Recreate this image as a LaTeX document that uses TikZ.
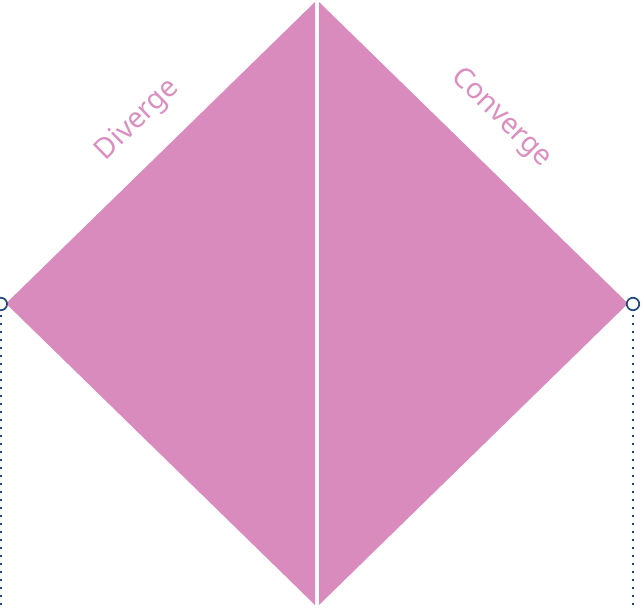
\documentclass[tikz,border=0pt]{standalone}
\usepackage{fontspec}
\setmainfont{Noto Sans}
\definecolor{diapink}{RGB}{217,139,189}
\definecolor{txtpink}{RGB}{219,142,192}
\definecolor{navy}{RGB}{31,73,125}
\begin{document}
\begin{tikzpicture}[x=1bp,y=-1bp,
  half/.style={fill=diapink,draw=none},
  lbl/.style={text=txtpink,font=\fontsize{28.5}{32}\selectfont,inner sep=0pt},
  port/.style={circle,draw=navy,fill=white,line width=1.7bp,minimum size=12.5bp,inner sep=0pt},
  dotline/.style={draw=navy,line width=1.8bp,dash pattern=on 1.8bp off 6.2bp}]
\useasboundingbox (0,0) rectangle (642,608);
\fill[half] (6,303.5) -- (315,2) -- (315,605) -- cycle;
\fill[half] (319,2) -- (628,303.5) -- (319,605) -- cycle;
\node[lbl,rotate=44.3] (div) at (138,120) {Diverge};
\node[lbl,rotate=-44.3] (con) at (501,118) {Converge};
\coordinate (lb) at (0.8,608);
\coordinate (rb) at (633,608);
\node[port] (lp) at (0.8,304) {};
\node[port] (rp) at (633,304) {};
\draw[dotline] (lp.south) ++(0,4) -- (lb);
\draw[dotline] (rp.south) ++(0,4) -- (rb);
\end{tikzpicture}
\end{document}
